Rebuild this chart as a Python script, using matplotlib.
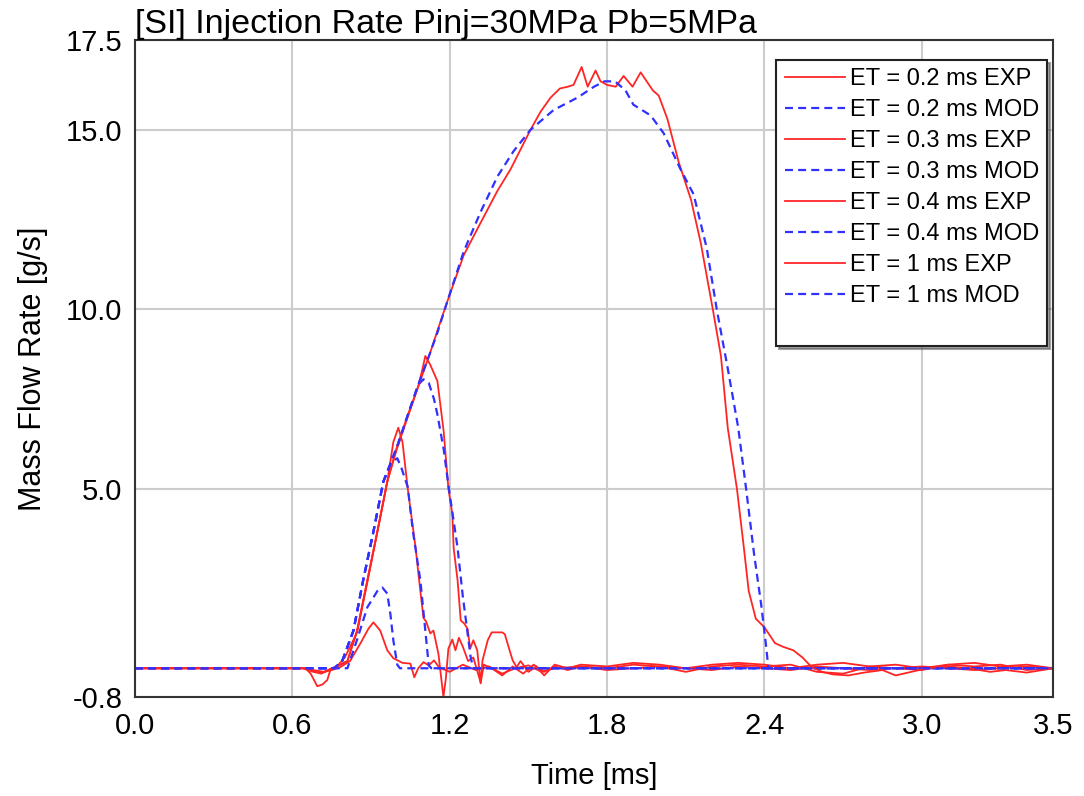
import matplotlib
matplotlib.use("Agg")
import matplotlib.pyplot as plt
from matplotlib.lines import Line2D

# (time [ms], mass flow rate [g/s])
exp_02 = [(0.0, 0), (0.64, 0), (0.68, -0.08), (0.71, -0.12), (0.75, -0.05), (0.78, 0.02),
          (0.82, 0.2), (0.86, 0.7), (0.89, 1.1), (0.909, 1.28), (0.935, 1.05), (0.962, 0.5),
          (0.985, 0.28), (1.02, 0.15), (1.05, 0.13), (1.065, -0.25), (1.08, 0.0), (1.10, 0.17),
          (1.12, 0.08), (1.14, 0.22), (1.16, 0.02), (1.2, -0.1), (1.25, 0.1), (1.3, -0.05),
          (1.35, 0.05), (1.4, -0.15), (1.45, 0.0), (1.5, 0.08), (1.55, -0.1), (1.6, 0.0),
          (1.7, 0.05), (1.8, -0.05), (1.9, 0.0), (2.0, 0.05), (2.1, 0.0), (2.2, -0.05),
          (2.3, 0.05), (2.4, 0.0), (2.5, -0.05), (2.6, 0.05), (2.7, 0.0), (2.8, -0.05),
          (2.9, 0.0), (3.0, 0.05), (3.1, 0.0), (3.2, -0.05), (3.3, 0.0), (3.4, 0.05), (3.5, 0.0)]
mod_02 = [(0.0, 0), (0.81, 0), (0.847, 0.8), (0.886, 1.7), (0.924, 2.15), (0.943, 2.25),
          (0.962, 2.08), (0.974, 1.5), (0.985, 0.78), (1.0, 0.1), (1.01, 0), (3.5, 0)]

exp_03 = [(0.0, 0), (0.64, 0), (0.68, -0.1), (0.71, -0.15), (0.74, -0.05), (0.77, 0.05),
          (0.80, 0.3), (0.847, 1.0), (0.886, 2.4), (0.924, 3.8), (0.962, 5.2), (0.985, 6.3),
          (1.004, 6.7), (1.02, 6.3), (1.04, 5.0), (1.07, 3.35), (1.088, 2.15), (1.10, 1.4),
          (1.11, 1.3), (1.126, 0.97), (1.138, 1.05), (1.157, 0.4), (1.168, -0.3), (1.176, -0.8),
          (1.185, -0.3), (1.195, 0.55), (1.21, 0.8), (1.222, 0.5), (1.235, 0.85), (1.25, 0.6),
          (1.27, 0.2), (1.29, 0.3), (1.318, -0.4), (1.33, 0.1), (1.36, 0.0), (1.40, -0.2),
          (1.44, 0.05), (1.48, -0.15), (1.52, 0.1), (1.56, -0.1), (1.60, 0.05), (1.65, -0.05),
          (1.7, 0.05), (1.8, 0.0), (1.9, 0.1), (2.0, 0.05), (2.1, -0.1), (2.2, 0.05), (2.3, 0.1),
          (2.4, 0.05), (2.5, 0.1), (2.6, -0.1), (2.7, -0.15), (2.8, 0.05), (2.9, 0.0),
          (3.0, -0.05), (3.1, 0.1), (3.2, 0.05), (3.3, 0.1), (3.4, -0.05), (3.5, 0.0)]
mod_03 = [(0.0, 0), (0.76, 0), (0.79, 0.2), (0.833, 1.05), (0.87, 2.45), (0.909, 3.8),
          (0.947, 5.2), (0.975, 5.7), (1.0, 5.85), (1.015, 5.6), (1.04, 5.05), (1.06, 3.8),
          (1.088, 2.45), (1.107, 1.05), (1.12, 0.08), (1.13, 0), (3.5, 0)]

exp_04 = [(0.0, 0), (0.64, 0), (0.68, -0.05), (0.72, -0.1), (0.75, 0.0), (0.783, 0.1),
          (0.81, 0.2), (0.847, 1.05), (0.886, 2.45), (0.924, 3.8), (0.962, 5.2), (1.0, 6.2),
          (1.04, 7.05), (1.08, 7.85), (1.095, 8.3), (1.107, 8.7), (1.126, 8.45), (1.153, 8.0),
          (1.177, 6.6), (1.195, 5.0), (1.21, 4.3), (1.215, 3.35), (1.23, 2.45), (1.242, 1.33),
          (1.255, 1.25), (1.268, 1.1), (1.278, 0.55), (1.29, 0.78), (1.305, 0.5), (1.318, -0.42),
          (1.325, 0.22), (1.345, 0.78), (1.36, 1.0), (1.40, 1.0), (1.41, 0.95), (1.425, 0.58),
          (1.44, 0.22), (1.455, 0.03), (1.47, 0.2), (1.5, -0.1), (1.53, 0.05), (1.56, -0.2),
          (1.6, 0.1), (1.65, 0.0), (1.7, 0.1), (1.8, 0.05), (1.9, 0.15), (2.0, 0.1), (2.1, 0.0),
          (2.2, 0.1), (2.3, 0.15), (2.4, 0.1), (2.5, 0.0), (2.6, 0.1), (2.7, 0.15), (2.8, 0.05),
          (2.9, 0.1), (3.0, 0.0), (3.1, 0.1), (3.2, 0.15), (3.3, 0.05), (3.4, 0.1), (3.5, 0.0)]
mod_04 = [(0.0, 0), (0.76, 0), (0.79, 0.2), (0.833, 1.05), (0.87, 2.45), (0.909, 3.8),
          (0.947, 5.2), (1.0, 6.15), (1.04, 7.05), (1.08, 7.9), (1.10, 8.05), (1.12, 7.95),
          (1.14, 7.5), (1.153, 7.07), (1.177, 6.1), (1.195, 5.1), (1.23, 3.35), (1.25, 2.0),
          (1.27, 0.87), (1.28, 0.3), (1.29, 0), (3.5, 0)]

exp_1 = [(0.0, 0), (0.65, 0), (0.67, -0.15), (0.695, -0.5), (0.715, -0.45), (0.733, -0.33),
         (0.745, -0.05), (0.76, 0.0), (0.783, 0.1), (0.81, 0.2), (0.847, 1.05), (0.886, 2.45),
         (0.924, 3.8), (0.962, 5.2), (1.0, 6.15), (1.04, 7.0), (1.08, 7.85), (1.126, 8.8),
         (1.153, 9.4), (1.19, 10.2), (1.253, 11.5), (1.317, 12.4), (1.382, 13.3), (1.432, 13.9),
         (1.508, 15.0), (1.546, 15.5), (1.585, 15.9), (1.62, 16.15), (1.65, 16.2), (1.672, 16.25),
         (1.703, 16.75), (1.726, 16.2), (1.756, 16.65), (1.775, 16.35), (1.80, 16.25),
         (1.833, 16.2), (1.863, 16.5), (1.897, 16.2), (1.928, 16.6), (1.974, 16.1),
         (1.997, 15.95), (2.03, 15.3), (2.073, 14.1), (2.12, 13.05), (2.157, 11.85),
         (2.203, 10.0), (2.234, 8.7), (2.26, 6.7), (2.295, 5.0), (2.32, 3.45), (2.34, 2.15),
         (2.367, 1.38), (2.40, 1.14), (2.44, 0.7), (2.47, 0.6), (2.51, 0.5), (2.545, 0.3),
         (2.58, 0.03), (2.62, -0.1), (2.66, -0.17), (2.72, -0.2), (2.78, -0.12), (2.85, -0.05),
         (2.9, -0.2), (2.96, -0.1), (3.02, 0.0), (3.1, 0.05), (3.18, 0.0), (3.26, -0.1),
         (3.32, -0.05), (3.4, -0.12), (3.46, -0.05), (3.5, 0.0)]
mod_1 = [(0.0, 0), (0.76, 0), (0.79, 0.2), (0.833, 1.05), (0.87, 2.45), (0.909, 3.8),
         (0.947, 5.2), (1.0, 6.2), (1.04, 7.05), (1.08, 7.9), (1.126, 8.8), (1.153, 9.35),
         (1.19, 10.2), (1.253, 11.6), (1.317, 12.7), (1.382, 13.7), (1.443, 14.4), (1.508, 15.0),
         (1.596, 15.55), (1.688, 15.9), (1.75, 16.2), (1.79, 16.35), (1.83, 16.35), (1.87, 16.1),
         (1.90, 15.7), (1.966, 15.4), (2.016, 14.9), (2.08, 13.9), (2.13, 13.2), (2.18, 11.7),
         (2.218, 10.0), (2.26, 8.35), (2.30, 6.7), (2.33, 5.0), (2.36, 3.2), (2.387, 1.8),
         (2.405, 0.7), (2.415, 0.0), (3.5, 0.0)]

series = [("ET = 0.2 ms", exp_02, mod_02), ("ET = 0.3 ms", exp_03, mod_03),
          ("ET = 0.4 ms", exp_04, mod_04), ("ET = 1 ms", exp_1, mod_1)]

x_ticks = [0.0, 0.6, 1.2, 1.8, 2.4, 3.0, 3.5]
y_ticks = [-0.8, 5.0, 10.0, 15.0, 17.5]

plt.rcParams['font.family'] = ['Liberation Sans', 'DejaVu Sans']

fig = plt.figure(figsize=(10.84, 7.96), dpi=100)
ax = fig.add_axes([0.1245, 0.1244, 0.8469, 0.8253])

red = '#ff2525'
blue = '#3030ff'
handles = []
labels = []
for name, exp, mod in series:
    te, ve = zip(*exp)
    tm, vm = zip(*mod)
    h1, = ax.plot(te, ve, color=red, lw=1.3)
    h2, = ax.plot(tm, vm, color=blue, lw=1.6, linestyle=(0, (3.6, 2.3)))
    handles += [h1, h2]
    labels += [name + " EXP", name + " MOD"]
# the reference legend box has one empty row at the bottom
handles.append(Line2D([], [], linestyle='none'))
labels.append('')

ax.set_xlim(0, 3.5)
ax.set_ylim(-0.8, 17.5)
ax.set_xticks(x_ticks)
ax.set_xticklabels([f"{t:.1f}" for t in x_ticks])
ax.set_yticks(y_ticks)
ax.set_yticklabels([f"{v:.1f}" for v in y_ticks])
ax.tick_params(length=0, labelsize=21)
ax.tick_params(axis='x', pad=11)
ax.tick_params(axis='y', pad=9)
ax.grid(True, color='#cccccc', lw=1.5)
ax.set_axisbelow(True)
for s in ax.spines.values():
    s.set_color('#333333')
    s.set_linewidth(1.5)

ax.set_xlabel("Time [ms]", fontsize=21, labelpad=16)
ax.set_ylabel("Mass Flow Rate [g/s]", fontsize=22, labelpad=13)
ax.set_title("[SI] Injection Rate Pinj=30MPa Pb=5MPa", loc='left', fontsize=24.5, pad=2)

leg = ax.legend(handles, labels, loc='upper right', bbox_to_anchor=(0.9935, 0.9696),
                borderaxespad=0, fontsize=17, frameon=True, fancybox=False, shadow=True,
                handlelength=2.55, handletextpad=0.2, labelspacing=0.38, borderpad=0.35)
leg.get_frame().set_edgecolor('#222222')
leg.get_frame().set_linewidth(1.5)

fig.savefig("out.png", dpi=100)
